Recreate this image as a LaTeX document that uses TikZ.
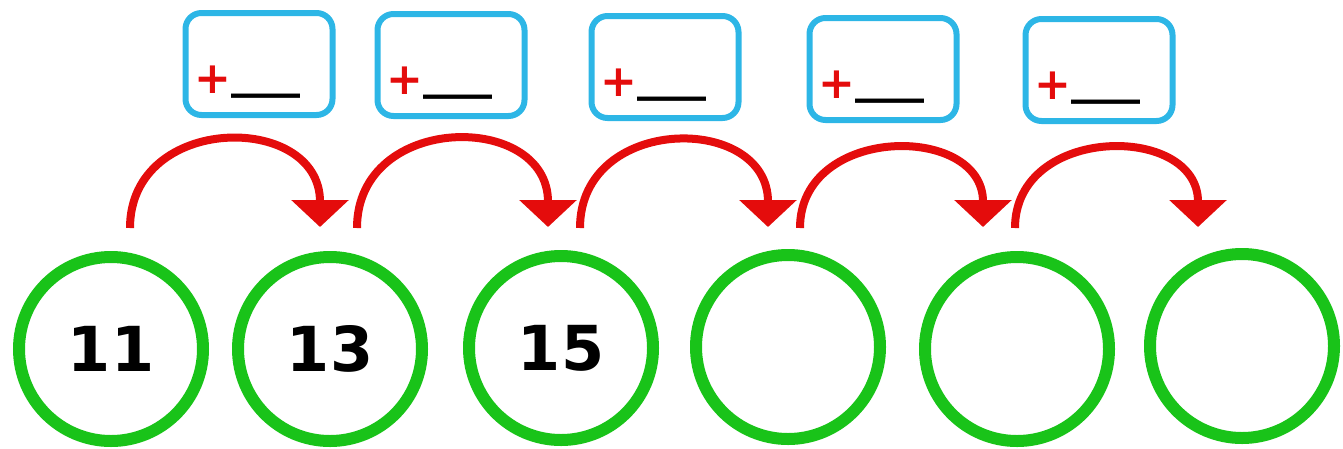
\documentclass[tikz,border=0pt]{standalone}
\usepackage{fontspec}
\usepackage{xcolor}
\usepackage{tikz}
\usetikzlibrary{arrows.meta}
\newfontfamily\numfont{DejaVu Sans}
\definecolor{ring-green}{RGB}{25,195,25}
\definecolor{box-cyan}{RGB}{45,182,230}
\definecolor{jump-red}{RGB}{228,12,12}
\newcommand{\blankline}{\textcolor{jump-red}{\fontsize{44}{44}\selectfont\raisebox{-6pt}{+}}\_\_\_}
\tikzset{
    number-circle/.style = {draw=ring-green, line width=12pt, circle, minimum size=184pt, inner sep=0pt, font=\numfont\bfseries\fontsize{62}{62}\selectfont},
    hint-box/.style = {draw=box-cyan, line width=6pt, rectangle, rounded corners=16pt, minimum width=147pt, minimum height=102pt},
    hint-text/.style = {anchor=base west, inner sep=0pt, font=\numfont\bfseries\fontsize{46}{46}\selectfont},
    jump-arrow/.style = {draw=jump-red, line width=8pt, -{Triangle[width=56pt,length=27pt]}},
}

\begin{document}
\begin{tikzpicture}[x=1pt,y=-1pt]
\useasboundingbox (0,0) rectangle (1343,448);
% the number line of circles
\node[number-circle] (c1) at (111,349) {11};
\node[number-circle] (c2) at (330,349) {13};
\node[number-circle] (c3) at (561,348) {15};
\node[number-circle] (c4) at (788,347) {};
\node[number-circle] (c5) at (1017,349) {};
\node[number-circle] (c6) at (1242,346) {};
% boxes to fill in
\node[hint-box] (b1) at (259,64) {};
\node[hint-box] (b2) at (451,65) {};
\node[hint-box] (b3) at (665,67) {};
\node[hint-box] (b4) at (883,69) {};
\node[hint-box] (b5) at (1099,70) {};
\node[hint-text] (t1) at ([xshift=12pt,yshift=31pt]b1.south west) {\blankline};
\node[hint-text] (t2) at ([xshift=12pt,yshift=31pt]b2.south west) {\blankline};
\node[hint-text] (t3) at ([xshift=12pt,yshift=31pt]b3.south west) {\blankline};
\node[hint-text] (t4) at ([xshift=12pt,yshift=31pt]b4.south west) {\blankline};
\node[hint-text] (t5) at ([xshift=12pt,yshift=31pt]b5.south west) {\blankline};
% jumps
\coordinate (s1) at (130,228);
\coordinate (e1) at (320,227);
\coordinate (s2) at (357,228);
\coordinate (e2) at (548,227);
\coordinate (s3) at (580,228);
\coordinate (e3) at (768,227);
\coordinate (s4) at (800,228);
\coordinate (e4) at (983,227);
\coordinate (s5) at (1015,228);
\coordinate (e5) at (1198,227);
\draw[jump-arrow] (s1) to[out=90,in=90,looseness=1.55] (e1);
\draw[jump-arrow] (s2) to[out=90,in=90,looseness=1.55] (e2);
\draw[jump-arrow] (s3) to[out=90,in=90,looseness=1.55] (e3);
\draw[jump-arrow] (s4) to[out=90,in=90,looseness=1.45] (e4);
\draw[jump-arrow] (s5) to[out=90,in=90,looseness=1.45] (e5);
\end{tikzpicture}
\end{document}
